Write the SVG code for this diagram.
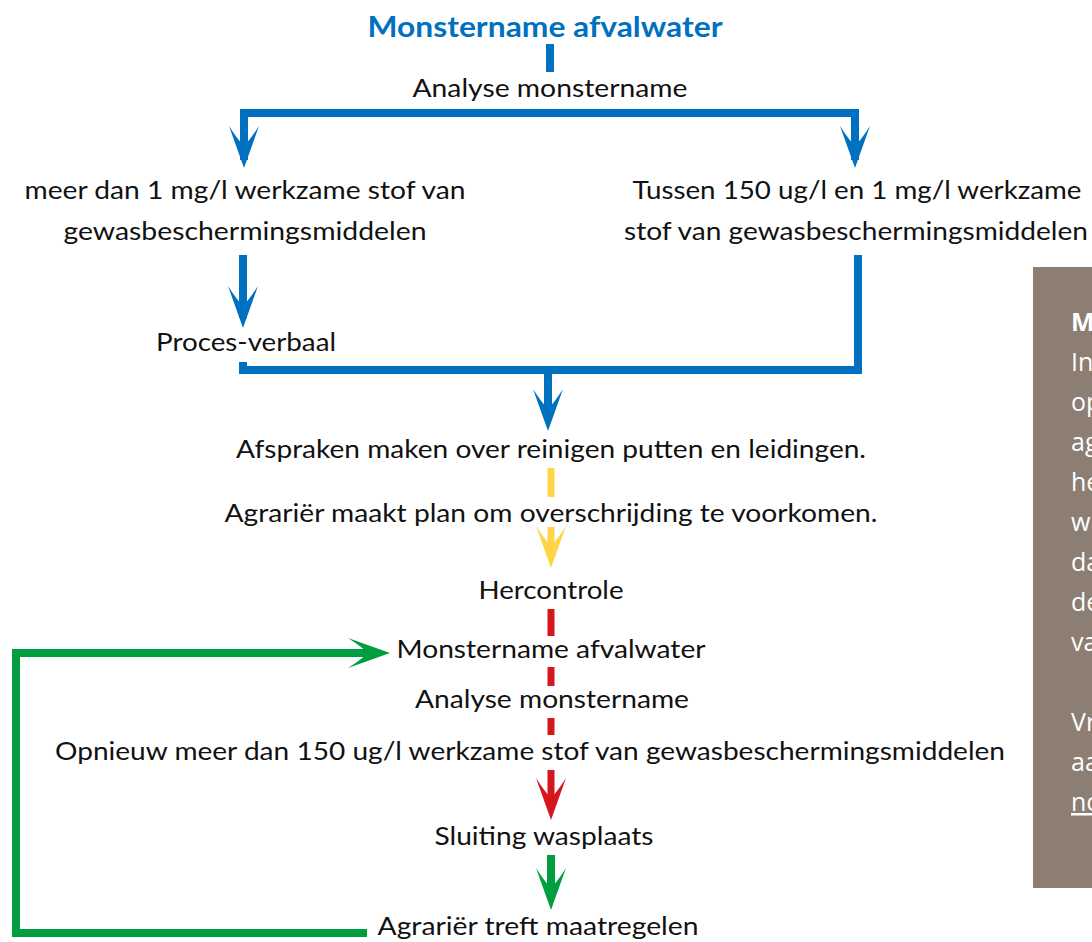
<svg xmlns="http://www.w3.org/2000/svg" xmlns:xlink="http://www.w3.org/1999/xlink" width="1092" height="942" viewBox="0 0 1092 942">
<style>
.t{font-family:Lato,"Liberation Sans",sans-serif;font-size:25px;fill:#111;text-anchor:middle}
.title{font-family:Lato,"Liberation Sans",sans-serif;font-size:28px;font-weight:bold;fill:#0070C0;text-anchor:middle}
.bt{font-family:"Open Sans","Liberation Sans",sans-serif;font-size:25px;fill:#fff}
.blue{stroke:#0070C0;stroke-width:8;fill:none}
.yel{stroke:#FFD548;stroke-width:7;fill:none}
.red{stroke:#D5161D;stroke-width:7;fill:none}
.grn{stroke:#009E40;stroke-width:8;fill:none}
</style>
<defs>
<path id="ah" d="M0,0 L-15,-42 Q-6,-28 0,-22 Q6,-28 15,-42 Z"/>
<path id="ahr" d="M0,0 L-42,-15 Q-28,-6 -22,0 Q-28,6 -42,15 Z"/>
</defs>
<rect x="1033" y="267" width="70" height="621" fill="#8C7E73"/>
<g id="sidebox">
<text class="bt" x="1071" y="331" font-weight="bold">M</text>
<text class="bt" x="1071" y="371">In</text>
<text class="bt" x="1071" y="411">op</text>
<text class="bt" x="1071" y="451">ag</text>
<text class="bt" x="1071" y="491">he</text>
<text class="bt" x="1071" y="531">w</text>
<text class="bt" x="1071" y="571">da</text>
<text class="bt" x="1071" y="611">de</text>
<text class="bt" x="1071" y="651">va</text>
<text class="bt" x="1071" y="731">Vr</text>
<text class="bt" x="1071" y="771">aa</text>
<text class="bt" x="1071" y="811" text-decoration="underline">no</text>
</g>
<g id="connectors">
<path class="blue" d="M550,44 V72"/>
<path class="blue" d="M244,160 V113 H855 V160"/>
<use xlink:href="#ah" x="244" y="168" fill="#0070C0"/>
<use xlink:href="#ah" x="855" y="168" fill="#0070C0"/>
<path class="blue" d="M243,255 V318"/>
<use xlink:href="#ah" x="243" y="328" fill="#0070C0"/>
<path class="blue" d="M243,362 V370 H858 V255"/>
<path class="blue" d="M548,370 V420"/>
<use xlink:href="#ah" x="548" y="431" fill="#0070C0"/>
<path class="yel" d="M551,468 V497"/>
<path class="yel" d="M551,527 V555"/>
<use xlink:href="#ah" x="551" y="568" fill="#FFD548"/>
<path class="red" d="M551,609 V636"/>
<path class="red" d="M551,667 V686"/>
<path class="red" d="M551,718 V735"/>
<path class="red" d="M551,770 V808"/>
<use xlink:href="#ah" x="551" y="820" fill="#D5161D"/>
<path class="grn" d="M551,855 V898"/>
<use xlink:href="#ah" x="551" y="910" fill="#009E40"/>
<path class="grn" d="M367,933 H16 V653 H378"/>
<use xlink:href="#ahr" x="390" y="653" fill="#009E40"/>
</g>
<g id="n-title"><text class="title" x="545" y="37" textLength="355" lengthAdjust="spacingAndGlyphs">Monstername afvalwater</text></g>
<g id="n-analyse1"><text class="t" x="550" y="97" textLength="275" lengthAdjust="spacingAndGlyphs">Analyse monstername</text></g>
<g id="n-meer">
<text class="t" x="245" y="199" textLength="441" lengthAdjust="spacingAndGlyphs">meer dan 1 mg/l werkzame stof van</text>
<text class="t" x="245" y="240" textLength="363" lengthAdjust="spacingAndGlyphs">gewasbeschermingsmiddelen</text>
</g>
<g id="n-tussen">
<text class="t" x="857" y="199" textLength="449" lengthAdjust="spacingAndGlyphs">Tussen 150 ug/l en 1 mg/l werkzame</text>
<text class="t" x="856" y="240" textLength="464" lengthAdjust="spacingAndGlyphs">stof van gewasbeschermingsmiddelen</text>
</g>
<g id="n-pv"><text class="t" x="246" y="351" textLength="180" lengthAdjust="spacingAndGlyphs">Proces-verbaal</text></g>
<g id="n-afspraken"><text class="t" x="551" y="458" textLength="630" lengthAdjust="spacingAndGlyphs">Afspraken maken over reinigen putten en leidingen.</text></g>
<g id="n-plan"><text class="t" x="551" y="522" textLength="653" lengthAdjust="spacingAndGlyphs">Agrariër maakt plan om overschrijding te voorkomen.</text></g>
<g id="n-hercontrole"><text class="t" x="551" y="599" textLength="145" lengthAdjust="spacingAndGlyphs">Hercontrole</text></g>
<g id="n-monstername2"><text class="t" x="551" y="658" textLength="309" lengthAdjust="spacingAndGlyphs">Monstername afvalwater</text></g>
<g id="n-analyse2"><text class="t" x="552" y="708" textLength="274" lengthAdjust="spacingAndGlyphs">Analyse monstername</text></g>
<g id="n-opnieuw"><text class="t" x="530" y="760" textLength="950" lengthAdjust="spacingAndGlyphs">Opnieuw meer dan 150 ug/l werkzame stof van gewasbeschermingsmiddelen</text></g>
<g id="n-sluiting"><text class="t" x="544" y="845" textLength="219" lengthAdjust="spacingAndGlyphs">Sluiting wasplaats</text></g>
<g id="n-treft"><text class="t" x="538" y="935" textLength="321" lengthAdjust="spacingAndGlyphs">Agrariër treft maatregelen</text></g>
</svg>
